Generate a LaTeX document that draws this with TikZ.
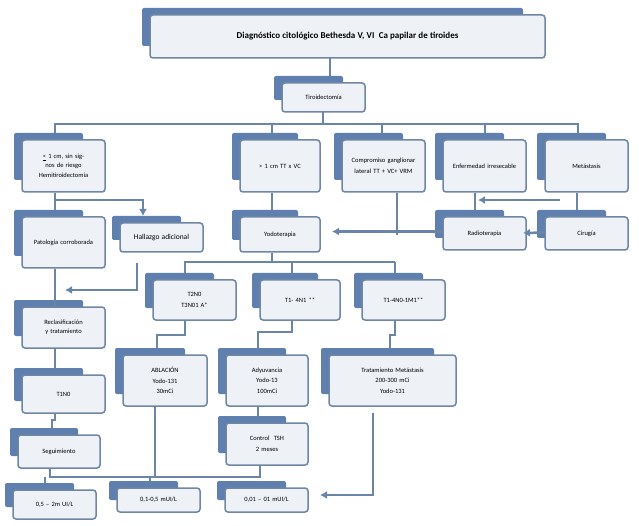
\documentclass[tikz,border=0pt]{standalone}
\usepackage{fontspec}
\setmainfont{Carlito}
\usetikzlibrary{arrows.meta,calc}
\definecolor{tabc}{HTML}{5F80AE}
\definecolor{edgec}{HTML}{6F86A4}
\definecolor{fillc}{HTML}{EEF2F7}
\definecolor{linec}{HTML}{6A85A8}
\tikzset{
 frontbox/.style={draw=edgec,line width=1.5pt,fill=fillc,rounded corners=3pt,align=center,inner sep=2pt,font=\fontsize{6.5}{8.5}\selectfont},
 conn/.style={draw=linec,line width=2.5pt},
 arr/.style={conn,-{Latex[length=7pt,width=8pt]}}
}
\newcommand\bx[6]{%
 \pgfmathsetmacro\bw{#4-#2}\pgfmathsetmacro\bh{#5-#3}\pgfmathsetmacro\tw{#4-#2-8}%
 \fill[tabc,rounded corners=2pt] (#2-8,#3-7) rectangle (#4-22,#5-12);
 \node[frontbox,minimum width=\bw pt,minimum height=\bh pt,text width=\tw pt] (#1) at ({(#2+#4)/2},{(#3+#5)/2}) {#6};
}
\begin{document}
\begin{tikzpicture}[x=1pt,y=-1pt]
\useasboundingbox[fill=white] (0,0) rectangle (639,526);
% connectors behind
\draw[conn] (330,58) -- (330,83);
\draw[conn] (323,112) -- (323,124);
\draw[conn] (55,140) -- (55,124) -- (578,124) -- (578,140);
\draw[conn] (272,124) -- (272,140);
\draw[conn] (382,124) -- (382,140);
\draw[conn] (485,124) -- (485,140);
\bx{title}{150}{15}{545}{58}{\fontsize{9}{11}\selectfont\bfseries Diagnóstico citológico Bethesda V, VI\ \ Ca papilar de tiroides}
\bx{tir}{282}{83}{365}{112}{Tiroidectomía}
\bx{b1}{22}{140}{105}{192}{\underline{<} 1 cm, sin signos de riesgo\\[2pt] Hemitiroidectomía}
\bx{b2}{240}{140}{320}{192}{> 1 cm TT x VC}
\bx{b3}{342}{140}{425}{192}{Compromiso ganglionar\\[2pt] lateral TT + VC+ VRM}
\bx{b4}{443}{140}{526}{192}{Enfermedad irresecable}
\bx{b5}{545}{140}{628}{192}{Metástasis}
\bx{pat}{22}{217}{105}{268}{Patología corroborada}
\bx{hal}{120}{223}{203}{252}{\fontsize{7.5}{9}\selectfont Hallazgo adicional}
\bx{yod}{240}{217}{320}{252}{Yodoterapia}
\bx{rad}{443}{217}{526}{250}{Radioterapia}
\bx{cir}{545}{217}{628}{250}{Cirugía}
\bx{t1}{153}{280}{236}{320}{T2N0\\[3pt] T3N01 A*}
\bx{t2}{260}{280}{340}{320}{T1- 4N1 **}
\bx{t3}{362}{280}{445}{320}{T1-4N0-1M1**}
\bx{rec}{22}{307}{105}{348}{Reclasificación y tratamiento}
\bx{abl}{123}{355}{207}{406}{ABLACIÓN\\[2pt] Yodo-131\\[2pt] 30mCi}
\bx{ady}{226}{355}{308}{406}{Adyuvancia\\[2pt] Yodo-13\\[2pt] 100mCi}
\bx{tm}{329}{355}{456}{406}{Tratamiento Metástasis\\[2pt] 200-300 mCi\\[2pt] Yodo-131}
\bx{tin}{22}{375}{105}{413}{T1N0}
\bx{ctl}{226}{423}{308}{465}{Control\ \ TSH\\[3pt] 2 meses}
\bx{seg}{18}{435}{100}{468}{Seguimiento}
\bx{r1}{13}{490}{96}{519}{0,5 – 2m UI/L}
\bx{r2}{117}{488}{200}{512}{0,1-0,5 mUI/L}
\bx{r3}{225}{488}{308}{512}{0,01 – 01 mUI/L}
% connectors
\draw[conn] (b1.south -| 55,0) -- (55,210);
\draw[arr] (55,200) -- (143,200) -- (143,216);
\draw[conn] (pat.south -| 55,0) -- (rec.north -| 55,0);
\draw[arr] (137,263) -- (137,290) -- (65,290);
\draw[conn] (b2.south -| 272,0) -- (272,210);
\draw[conn] (b3.south -| 397,0) -- (397,235);
\draw[arr] (rad.west) ++(0,-2) coordinate (rw) -- (rw -| 332,0);
\draw[arr] (560,200) -- (478,200);
\draw[conn] (b4.south -| 475,0) -- (475,210);
\draw[conn] (b5.south -| 577,0) -- (577,210);
\draw[arr] (cir.west) ++(0,-1) coordinate (cw) -- (523,233);
\draw[conn] (yod.south -| 272,0) -- (272,262);
\draw[conn] (185,273) -- (185,262) -- (292,262) -- (292,273);
\draw[conn] (395,262) -- (292,262);
\draw[conn] (395,262) -- (395,273);
\draw[conn] (185,320) -- (185,335) -- (157,335) -- (157,348);
\draw[conn] (292,320) -- (292,332) -- (258,332) -- (258,348);
\draw[conn] (395,320) -- (395,335) -- (390,335) -- (390,348);
\draw[conn] (rec.south -| 55,0) -- (55,368);
\draw[conn] (55,413) -- (55,420) -- (52,420) -- (52,428);
\draw[conn] (ady.south -| 258,0) -- (258,416);
\draw[conn] (50,468) -- (50,477) -- (260,477) -- (260,465);
\draw[conn] (155,406) -- (155,477);
\draw[conn] (45,477) -- (45,483);
\draw[conn] (150,477) -- (150,481);
\draw[arr] (373,413) -- (373,495) -- (320,495);
\end{tikzpicture}
\end{document}
